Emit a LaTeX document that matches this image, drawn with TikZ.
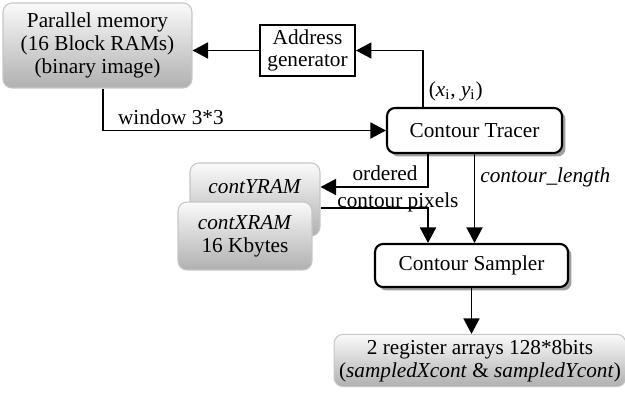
\documentclass[tikz,border=0pt]{standalone}
\usepackage{fontspec}
\setmainfont{Liberation Serif}
\usetikzlibrary{arrows.meta,positioning,shadows}

\begin{document}
\begin{tikzpicture}[x=0.02cm,y=-0.02cm,
  font=\fontsize{12.1}{13}\selectfont,
  line width=1pt,
  mem/.style={draw=gray!45,line width=0.6pt,rounded corners=0.18cm,top color=gray!4,bottom color=gray!62,inner sep=0.1cm},
  unit/.style={draw,line width=1.2pt,rounded corners=0.16cm,fill=white,drop shadow={shadow xshift=0.07cm,shadow yshift=-0.07cm,fill=gray!75,opacity=1}},
  gen/.style={draw,line width=1.1pt,align=center,inner sep=0.08cm},
  lbl/.style={inner sep=0.1cm},
  >={Triangle[length=0.31cm,width=0.32cm]}]
\useasboundingbox (0,0) rectangle (625,394);
\node[mem,align=center,minimum width=3.78cm,minimum height=1.7cm] (pm) at (97.5,45.5) {Parallel memory\\(16 Block RAMs)\\(binary image)};
\node[gen,minimum width=1.9cm,minimum height=1.02cm] (agen) at (307.5,50.5) {Address\\generator};
\node[unit,minimum width=3.5cm,minimum height=0.9cm] (tracer) at (474.5,130.5) {Contour Tracer};
\node[mem,minimum width=2.6cm,text height=0.52cm,text depth=0.74cm] (yram) at (255,199.5) {\textit{contYRAM}};
\node[mem,align=center,minimum width=2.68cm,minimum height=1.36cm] (xram) at (245,236) {\textit{contXRAM}\\16 Kbytes};
\node[unit,minimum width=3.86cm,minimum height=0.86cm] (sampler) at (471.5,265.5) {Contour Sampler};
\node[mem,align=center,minimum width=5.72cm,minimum height=0.9cm] (reg) at (480,360.5) {2 register arrays 128*8bits\\(\textit{sampledXcont} \& \textit{sampledYcont})};
\draw[->] ([xshift=-1.03cm]tracer.north) |- node[lbl,right,pos=0.14] {(\textit{x}\textsubscript{i}, \textit{y}\textsubscript{i})} (agen.east);
\draw[->] (agen.west) -- (agen.west -| pm.east);
\draw[->] ([xshift=0.11cm]pm.south) |- node[lbl,above,pos=0.62] {window 3*3} (tracer.west);
\draw[->] ([xshift=-0.93cm]tracer.south) |- node[lbl,above,pos=0.7] {ordered} node[lbl,below,pos=0.64] {contour pixels} ([yshift=0.25cm]yram.east);
\draw[->] ([yshift=-0.17cm]yram.east) -| ([xshift=-0.87cm]sampler.north);
\draw[->] (tracer.south) -- node[lbl,right,pos=0.26] {\textit{contour\_length}} (tracer.south |- sampler.north);
\draw[->] (sampler.south) -- (sampler.south |- reg.north);
\end{tikzpicture}
\end{document}
